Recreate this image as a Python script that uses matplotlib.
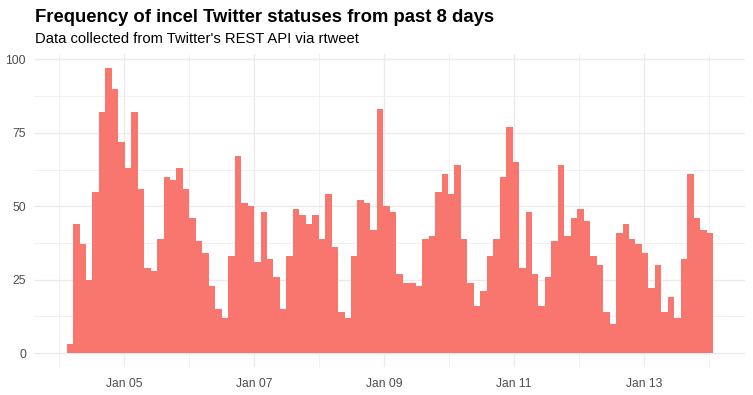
import datetime as dt
import matplotlib
matplotlib.use('Agg')
import matplotlib.pyplot as plt
import matplotlib.dates as mdates
from matplotlib.ticker import MultipleLocator

# statuses per time bin, bins of ~2.39 hours
counts = [3, 44, 37, 25, 55, 82, 97, 90, 72, 63,
          82, 56, 29, 28, 39, 60, 59, 63, 56, 46,
          38, 34, 23, 15, 12, 33, 67, 51, 50, 31,
          48, 32, 26, 15, 33, 49, 47, 44, 47, 39,
          54, 36, 14, 12, 33, 52, 51, 42, 83, 50,
          48, 27, 24, 24, 23, 39, 40, 55, 61, 54,
          64, 39, 24, 16, 21, 33, 39, 60, 77, 65,
          29, 48, 27, 16, 26, 38, 64, 40, 46, 49,
          45, 33, 30, 14, 10, 41, 44, 39, 37, 34,
          22, 30, 14, 19, 12, 32, 61, 46, 42, 41]
first_bin = dt.datetime(2018, 1, 4, 2, 51)
bin_hours = 2.386

title = 'Frequency of incel Twitter statuses from past 8 days'
subtitle = "Data collected from Twitter's REST API via rtweet"

plt.rcParams['font.family'] = ['Liberation Sans', 'DejaVu Sans']

bw = bin_hours / 24.0
x0 = mdates.date2num(first_bin)
lefts = [x0 + i * bw for i in range(len(counts))]

fig = plt.figure(figsize=(7.53, 3.95), dpi=100)
ax = fig.add_axes([0.0455, 0.0700, 0.9443, 0.7935])

ax.bar(lefts, counts, width=bw, align='edge', color='#F8766D', linewidth=0, zorder=2)

# ggplot-like 5% expansion on both axes
xmin, xmax = lefts[0], lefts[-1] + bw
xpad = (xmax - xmin) * 0.05
ax.set_xlim(xmin - xpad, xmax + xpad)
ypad = max(counts) * 0.05
ax.set_ylim(-ypad, max(counts) + ypad)

ax.xaxis.set_major_locator(mdates.DayLocator(bymonthday=[5, 7, 9, 11, 13]))
ax.xaxis.set_minor_locator(mdates.DayLocator(bymonthday=[4, 6, 8, 10, 12, 14]))
ax.xaxis.set_major_formatter(mdates.DateFormatter('%b %d'))
ax.yaxis.set_major_locator(MultipleLocator(25))
ax.yaxis.set_minor_locator(MultipleLocator(12.5))

ax.grid(which='major', color='#EBEBEB', linewidth=1.0, zorder=0)
ax.grid(which='minor', color='#EFEFEF', linewidth=0.6, zorder=0)
ax.set_axisbelow(True)
for s in ax.spines.values():
    s.set_visible(False)
ax.tick_params(which='both', length=0, labelsize=8.7, labelcolor='#4D4D4D')
ax.tick_params(axis='x', pad=8)
ax.tick_params(axis='y', pad=6)

fig.text(0.046, 0.945, title, fontsize=13.3, fontweight='bold', ha='left', va='baseline')
fig.text(0.046, 0.890, subtitle, fontsize=10.6, ha='left', va='baseline')

fig.savefig('out.png', dpi=100)
